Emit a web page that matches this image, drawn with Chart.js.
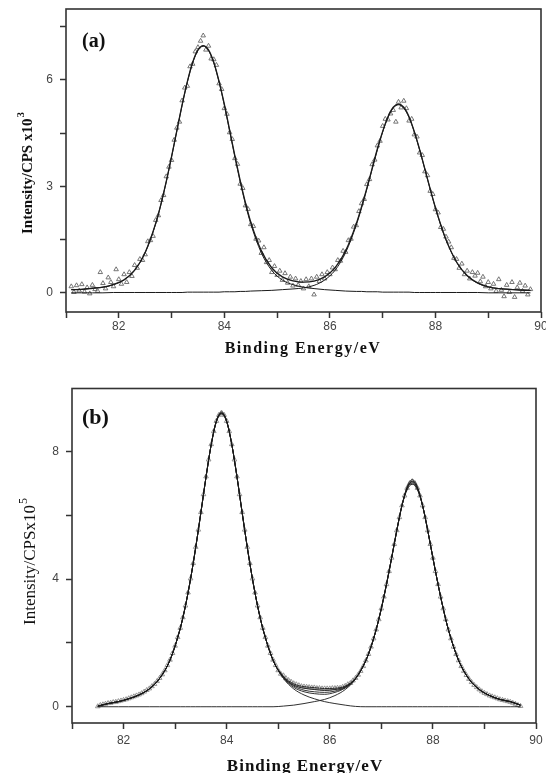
<!DOCTYPE html>
<html>
<head>
<meta charset="utf-8">
<script src="https://cdn.jsdelivr.net/npm/chart.js"></script>
<style>
  html, body { margin: 0; padding: 0; background: #fff; width: 546px; height: 773px; overflow: hidden; }
  canvas { position: absolute; left: 0; }
  #chartA { top: 0; }
  #chartB { top: 380px; }
</style>
</head>
<body>
<canvas id="chartA" width="560" height="360"></canvas>
<canvas id="chartB" width="560" height="400"></canvas>
<script>
// ---- tick labels ----
const xTickLabels = [82, 84, 86, 88, 90];
const yTickLabelsA = [0, 3, 6];
const yTickLabelsB = [0, 4, 8];

// ---- panel (a): measured points ----
const energyA = [
  81.10, 81.15, 81.20, 81.25, 81.30, 81.35, 81.40, 81.45, 81.50, 81.55,
  81.60, 81.65, 81.70, 81.75, 81.80, 81.85, 81.90, 81.95, 82.00, 82.05,
  82.10, 82.15, 82.20, 82.25, 82.30, 82.35, 82.40, 82.45, 82.50, 82.55,
  82.60, 82.65, 82.70, 82.75, 82.80, 82.85, 82.90, 82.95, 83.00, 83.05,
  83.10, 83.15, 83.20, 83.25, 83.30, 83.35, 83.40, 83.45, 83.50, 83.55,
  83.60, 83.65, 83.70, 83.75, 83.80, 83.85, 83.90, 83.95, 84.00, 84.05,
  84.10, 84.15, 84.20, 84.25, 84.30, 84.35, 84.40, 84.45, 84.50, 84.55,
  84.60, 84.65, 84.70, 84.75, 84.80, 84.85, 84.90, 84.95, 85.00, 85.05,
  85.10, 85.15, 85.20, 85.25, 85.30, 85.35, 85.40, 85.45, 85.50, 85.55,
  85.60, 85.65, 85.70, 85.75, 85.80, 85.85, 85.90, 85.95, 86.00, 86.05,
  86.10, 86.15, 86.20, 86.25, 86.30, 86.35, 86.40, 86.45, 86.50, 86.55,
  86.60, 86.65, 86.70, 86.75, 86.80, 86.85, 86.90, 86.95, 87.00, 87.05,
  87.10, 87.15, 87.20, 87.25, 87.30, 87.35, 87.40, 87.45, 87.50, 87.55,
  87.60, 87.65, 87.70, 87.75, 87.80, 87.85, 87.90, 87.95, 88.00, 88.05,
  88.10, 88.15, 88.20, 88.25, 88.30, 88.35, 88.40, 88.45, 88.50, 88.55,
  88.60, 88.65, 88.70, 88.75, 88.80, 88.85, 88.90, 88.95, 89.00, 89.05,
  89.10, 89.15, 89.20, 89.25, 89.30, 89.35, 89.40, 89.45, 89.50, 89.55,
  89.60, 89.65, 89.70, 89.75, 89.80
];
const countsA = [
  0.18, 0.02, 0.21, 0.06, 0.24, 0.03, 0.15, -0.02, 0.22, 0.10,
  0.05, 0.58, 0.27, 0.12, 0.43, 0.30, 0.18, 0.66, 0.38, 0.25,
  0.52, 0.30, 0.58, 0.47, 0.78, 0.70, 0.95, 0.92, 1.08, 1.45,
  1.48, 1.60, 2.05, 2.18, 2.61, 2.75, 3.28, 3.55, 3.74, 4.31,
  4.65, 4.82, 5.42, 5.78, 5.83, 6.38, 6.45, 6.80, 6.92, 7.10,
  7.25, 6.85, 6.96, 6.60, 6.58, 6.42, 5.90, 5.74, 5.20, 5.04,
  4.52, 4.33, 3.79, 3.63, 3.07, 2.95, 2.46, 2.36, 1.93, 1.88,
  1.52, 1.47, 1.12, 1.28, 0.86, 0.92, 0.58, 0.75, 0.50, 0.62,
  0.36, 0.55, 0.28, 0.45, 0.20, 0.40, 0.22, 0.33, 0.12, 0.38,
  0.18, 0.40, -0.05, 0.45, 0.33, 0.52, 0.40, 0.58, 0.52, 0.71,
  0.66, 0.92, 0.90, 1.18, 1.15, 1.48, 1.52, 1.86, 1.90, 2.30,
  2.52, 2.64, 3.06, 3.20, 3.62, 3.75, 4.15, 4.28, 4.70, 4.90,
  4.88, 5.05, 5.15, 4.82, 5.38, 5.22, 5.41, 5.20, 4.85, 4.90,
  4.46, 4.40, 3.95, 3.88, 3.42, 3.31, 2.87, 2.78, 2.35, 2.26,
  1.85, 1.80, 1.58, 1.44, 1.28, 0.98, 0.95, 0.70, 0.82, 0.52,
  0.62, 0.40, 0.58, 0.48, 0.56, 0.32, 0.45, 0.18, 0.30, 0.12,
  0.25, 0.05, 0.38, 0.08, -0.10, 0.22, 0.02, 0.30, -0.12, 0.15,
  0.28, 0.05, 0.20, -0.05, 0.10
];

// ---- panel (a): fitted curves ----
const fitEnergyA = [
  81.1, 81.3, 81.5, 81.7, 81.9, 82.1, 82.3, 82.5, 82.7, 82.8,
  82.9, 83.0, 83.1, 83.2, 83.3, 83.4, 83.5, 83.6, 83.7, 83.8,
  83.9, 84.0, 84.1, 84.2, 84.3, 84.4, 84.5, 84.7, 84.9, 85.1,
  85.3, 85.5, 85.7, 85.9, 86.1, 86.3, 86.5, 86.6, 86.7, 86.8,
  86.9, 87.0, 87.1, 87.2, 87.3, 87.4, 87.5, 87.6, 87.7, 87.8,
  87.9, 88.0, 88.1, 88.2, 88.4, 88.6, 88.8, 89.0, 89.2, 89.4,
  89.6, 89.8
];
const peak1A = [
  0.09, 0.10, 0.13, 0.16, 0.23, 0.36, 0.63, 1.13, 1.95, 2.50,
  3.13, 3.83, 4.56, 5.29, 5.94, 6.48, 6.83, 6.95, 6.83, 6.48,
  5.94, 5.29, 4.56, 3.83, 3.13, 2.50, 1.95, 1.13, 0.63, 0.36,
  0.23, 0.16, 0.12, 0.09, 0.07, 0.05, 0.04, 0.04, 0.03, 0.03,
  0.03, 0.02, 0.02, 0.02, 0.02, 0.02, 0.02, 0.01, 0.01, 0.01,
  0.01, 0.01, 0.01, 0.01, 0.01, 0.01, 0.01, 0, 0, 0,
  0, 0
];
const peak2A = [
  0, 0, 0, 0, 0.01, 0.01, 0.01, 0.01, 0.01, 0.01,
  0.01, 0.01, 0.01, 0.01, 0.02, 0.02, 0.02, 0.02, 0.02, 0.02,
  0.02, 0.03, 0.03, 0.03, 0.04, 0.04, 0.05, 0.06, 0.07, 0.09,
  0.11, 0.14, 0.21, 0.36, 0.64, 1.14, 1.91, 2.39, 2.92, 3.48,
  4.03, 4.53, 4.94, 5.21, 5.30, 5.21, 4.94, 4.53, 4.03, 3.48,
  2.92, 2.39, 1.91, 1.49, 0.86, 0.48, 0.27, 0.17, 0.12, 0.10,
  0.08, 0.07
];
const envelopeA = [
  0.09, 0.10, 0.13, 0.16, 0.24, 0.37, 0.64, 1.14, 1.96, 2.51,
  3.14, 3.84, 4.57, 5.30, 5.96, 6.50, 6.85, 6.97, 6.85, 6.50,
  5.96, 5.32, 4.59, 3.86, 3.17, 2.54, 2.00, 1.19, 0.70, 0.45,
  0.34, 0.30, 0.33, 0.45, 0.71, 1.19, 1.95, 2.43, 2.95, 3.51,
  4.06, 4.55, 4.96, 5.23, 5.32, 5.23, 4.96, 4.54, 4.04, 3.49,
  2.93, 2.40, 1.92, 1.50, 0.87, 0.49, 0.28, 0.17, 0.12, 0.10,
  0.08, 0.07
];

// ---- panel (b): measured points ----
const energyB = [
  81.50, 81.55, 81.60, 81.65, 81.70, 81.75, 81.80, 81.85, 81.90, 81.95,
  82.00, 82.05, 82.10, 82.15, 82.20, 82.25, 82.30, 82.35, 82.40, 82.45,
  82.50, 82.55, 82.60, 82.65, 82.70, 82.75, 82.80, 82.85, 82.90, 82.95,
  83.00, 83.05, 83.10, 83.15, 83.20, 83.25, 83.30, 83.35, 83.40, 83.45,
  83.50, 83.55, 83.60, 83.65, 83.70, 83.75, 83.80, 83.85, 83.90, 83.95,
  84.00, 84.05, 84.10, 84.15, 84.20, 84.25, 84.30, 84.35, 84.40, 84.45,
  84.50, 84.55, 84.60, 84.65, 84.70, 84.75, 84.80, 84.85, 84.90, 84.95,
  85.00, 85.05, 85.10, 85.15, 85.20, 85.25, 85.30, 85.35, 85.40, 85.45,
  85.50, 85.55, 85.60, 85.65, 85.70, 85.75, 85.80, 85.85, 85.90, 85.95,
  86.00, 86.05, 86.10, 86.15, 86.20, 86.25, 86.30, 86.35, 86.40, 86.45,
  86.50, 86.55, 86.60, 86.65, 86.70, 86.75, 86.80, 86.85, 86.90, 86.95,
  87.00, 87.05, 87.10, 87.15, 87.20, 87.25, 87.30, 87.35, 87.40, 87.45,
  87.50, 87.55, 87.60, 87.65, 87.70, 87.75, 87.80, 87.85, 87.90, 87.95,
  88.00, 88.05, 88.10, 88.15, 88.20, 88.25, 88.30, 88.35, 88.40, 88.45,
  88.50, 88.55, 88.60, 88.65, 88.70, 88.75, 88.80, 88.85, 88.90, 88.95,
  89.00, 89.05, 89.10, 89.15, 89.20, 89.25, 89.30, 89.35, 89.40, 89.45,
  89.50, 89.55, 89.60, 89.65, 89.70
];
const countsB = [
  0.01, 0.05, 0.07, 0.09, 0.11, 0.12, 0.14, 0.15, 0.17, 0.19,
  0.21, 0.23, 0.26, 0.29, 0.32, 0.35, 0.38, 0.42, 0.47, 0.52,
  0.57, 0.64, 0.71, 0.80, 0.90, 1.01, 1.14, 1.30, 1.47, 1.68,
  1.91, 2.18, 2.47, 2.80, 3.17, 3.58, 4.02, 4.50, 5.01, 5.55,
  6.10, 6.66, 7.22, 7.75, 8.23, 8.64, 8.96, 9.15, 9.22, 9.15,
  8.96, 8.64, 8.23, 7.75, 7.22, 6.66, 6.10, 5.55, 5.01, 4.50,
  4.02, 3.58, 3.17, 2.80, 2.47, 2.18, 1.91, 1.68, 1.47, 1.30,
  1.14, 1.03, 0.98, 0.89, 0.83, 0.78, 0.73, 0.70, 0.67, 0.64,
  0.63, 0.62, 0.61, 0.60, 0.60, 0.58, 0.58, 0.57, 0.57, 0.57,
  0.57, 0.58, 0.58, 0.59, 0.59, 0.62, 0.65, 0.70, 0.74, 0.82,
  0.90, 1.00, 1.12, 1.27, 1.45, 1.65, 1.88, 2.14, 2.42, 2.74,
  3.08, 3.45, 3.84, 4.25, 4.67, 5.10, 5.53, 5.94, 6.31, 6.62,
  6.86, 7.01, 7.07, 7.01, 6.86, 6.62, 6.31, 5.94, 5.53, 5.10,
  4.67, 4.25, 3.84, 3.45, 3.08, 2.74, 2.42, 2.14, 1.88, 1.65,
  1.45, 1.27, 1.12, 0.99, 0.87, 0.77, 0.68, 0.61, 0.54, 0.48,
  0.43, 0.39, 0.35, 0.32, 0.29, 0.26, 0.23, 0.21, 0.19, 0.17,
  0.15, 0.12, 0.09, 0.05, 0.02
];

// ---- panel (b): fitted curves (components and several envelopes) ----
const fitEnergyB = [
  81.5, 81.7, 81.9, 82.1, 82.3, 82.5, 82.7, 82.9, 83.1, 83.2,
  83.3, 83.4, 83.5, 83.6, 83.7, 83.8, 83.9, 84.0, 84.1, 84.2,
  84.3, 84.4, 84.5, 84.6, 84.7, 84.9, 85.1, 85.3, 85.5, 85.7,
  85.9, 86.1, 86.3, 86.5, 86.7, 86.8, 86.9, 87.0, 87.1, 87.2,
  87.3, 87.4, 87.5, 87.6, 87.7, 87.8, 87.9, 88.0, 88.1, 88.2,
  88.3, 88.5, 88.7, 88.9, 89.1, 89.3, 89.5, 89.7
];
const peak1B = [
  0.02, 0.10, 0.16, 0.25, 0.37, 0.56, 0.89, 1.46, 2.46, 3.16,
  4.01, 5.00, 6.09, 7.21, 8.22, 8.95, 9.21, 8.95, 8.22, 7.21,
  6.09, 5.00, 4.01, 3.16, 2.46, 1.46, 0.89, 0.56, 0.37, 0.25,
  0.16, 0.10, 0.05, 0.01, 0, 0, 0, 0, 0, 0,
  0, 0, 0, 0, 0, 0, 0, 0, 0, 0,
  0, 0, 0, 0, 0, 0, 0, 0
];
const peak2B = [
  0, 0, 0, 0, 0, 0, 0, 0, 0, 0,
  0, 0, 0, 0, 0, 0, 0, 0, 0, 0,
  0, 0, 0, 0, 0, 0, 0.02, 0.05, 0.10, 0.16,
  0.23, 0.35, 0.54, 0.87, 1.45, 1.88, 2.42, 3.08, 3.84, 4.67,
  5.53, 6.31, 6.86, 7.07, 6.86, 6.31, 5.53, 4.67, 3.84, 3.08,
  2.42, 1.45, 0.87, 0.54, 0.35, 0.23, 0.16, 0.05
];
const envelopeB1 = [
  0.02, 0.10, 0.16, 0.25, 0.37, 0.56, 0.89, 1.46, 2.46, 3.16,
  4.01, 5.00, 6.09, 7.21, 8.22, 8.95, 9.21, 8.95, 8.22, 7.21,
  6.09, 5.00, 4.01, 3.16, 2.46, 1.46, 0.91, 0.61, 0.47, 0.41,
  0.39, 0.45, 0.59, 0.88, 1.45, 1.88, 2.42, 3.08, 3.84, 4.67,
  5.53, 6.31, 6.86, 7.07, 6.86, 6.31, 5.53, 4.67, 3.84, 3.08,
  2.42, 1.45, 0.87, 0.54, 0.35, 0.23, 0.16, 0.05
];
const envelopeB2 = [
  0.02, 0.10, 0.16, 0.25, 0.37, 0.56, 0.89, 1.46, 2.46, 3.16,
  4.01, 5.00, 6.09, 7.21, 8.22, 8.93, 9.18, 8.93, 8.22, 7.21,
  6.09, 5.00, 4.01, 3.16, 2.46, 1.46, 0.93, 0.65, 0.52, 0.47,
  0.45, 0.49, 0.61, 0.88, 1.45, 1.88, 2.42, 3.08, 3.84, 4.67,
  5.53, 6.31, 6.84, 7.02, 6.84, 6.31, 5.53, 4.67, 3.84, 3.08,
  2.42, 1.45, 0.87, 0.54, 0.35, 0.23, 0.16, 0.05
];
const envelopeB3 = [
  0.02, 0.10, 0.16, 0.25, 0.37, 0.56, 0.89, 1.46, 2.46, 3.16,
  4.01, 5.00, 6.09, 7.21, 8.22, 8.95, 9.21, 8.95, 8.22, 7.21,
  6.09, 5.00, 4.01, 3.16, 2.46, 1.46, 0.94, 0.68, 0.58, 0.54,
  0.51, 0.54, 0.63, 0.89, 1.45, 1.88, 2.42, 3.08, 3.84, 4.67,
  5.53, 6.31, 6.80, 6.98, 6.80, 6.31, 5.53, 4.67, 3.84, 3.08,
  2.42, 1.45, 0.87, 0.54, 0.35, 0.23, 0.16, 0.05
];
const envelopeB4 = [
  0.02, 0.10, 0.16, 0.25, 0.37, 0.56, 0.89, 1.46, 2.46, 3.16,
  4.01, 5.00, 6.09, 7.21, 8.22, 8.97, 9.25, 8.97, 8.22, 7.21,
  6.09, 5.00, 4.01, 3.16, 2.46, 1.46, 0.96, 0.72, 0.63, 0.60,
  0.57, 0.58, 0.65, 0.90, 1.45, 1.88, 2.42, 3.08, 3.84, 4.67,
  5.53, 6.31, 6.90, 7.12, 6.90, 6.31, 5.53, 4.67, 3.84, 3.08,
  2.42, 1.45, 0.87, 0.54, 0.35, 0.23, 0.16, 0.05
];

const toXY = (xs, ys) => xs.map((x, i) => ({ x: x, y: ys[i] }));

const lineSet = (xs, ys, w) => ({
  data: toXY(xs, ys),
  showLine: true,
  pointRadius: 0,
  borderColor: '#1a1a1a',
  borderWidth: w,
  cubicInterpolationMode: 'monotone',
  order: 1
});

const pointSet = (xs, ys, r, color) => ({
  data: toXY(xs, ys),
  showLine: false,
  pointStyle: 'triangle',
  pointRadius: r,
  borderColor: color,
  borderWidth: 0.9,
  backgroundColor: 'rgba(255,255,255,0)',
  order: 2
});

// frame, panel letter and axis titles
const decorations = {
  id: 'decorations',
  afterDraw(chart, args, o) {
    const ctx = chart.ctx;
    const a = chart.chartArea;
    ctx.save();
    ctx.strokeStyle = '#333';
    ctx.lineWidth = 1.6;
    ctx.strokeRect(a.left, a.top, a.right - a.left, a.bottom - a.top);

    ctx.fillStyle = '#111';
    ctx.font = o.panelFont;
    ctx.textAlign = 'left';
    ctx.textBaseline = 'alphabetic';
    ctx.fillText(o.panel, o.panelX, o.panelY);

    ctx.font = o.xTitleFont;
    ctx.letterSpacing = o.xSpacing;
    ctx.textAlign = 'center';
    ctx.textBaseline = 'middle';
    ctx.fillText(o.xTitle, o.xTitleX, o.xTitleY);
    ctx.letterSpacing = '0px';

    ctx.translate(o.yTitleX, o.yTitleY);
    ctx.rotate(-Math.PI / 2);
    ctx.textAlign = 'left';
    ctx.font = o.yTitleFont;
    const w1 = ctx.measureText(o.yTitle).width;
    ctx.font = o.supFont;
    const w2 = ctx.measureText(o.yTitleSup).width;
    const x0 = -(w1 + w2) / 2;
    ctx.font = o.yTitleFont;
    ctx.fillText(o.yTitle, x0, 0);
    ctx.font = o.supFont;
    ctx.fillText(o.yTitleSup, x0 + w1 + 1, -7);
    ctx.restore();
  }
};

function makeChart(id, datasets, yMin, yMax, yStep, yLabels, axisW, axisH, pad, xPad, deco) {
  return new Chart(document.getElementById(id), {
    type: 'scatter',
    data: { datasets: datasets },
    plugins: [decorations],
    options: {
      responsive: false,
      animation: false,
      layout: { padding: pad },
      plugins: {
        legend: { display: false },
        tooltip: { enabled: false },
        decorations: deco
      },
      scales: {
        x: {
          type: 'linear',
          min: 81,
          max: 90,
          afterFit: s => { s.height = axisH; s.paddingLeft = 0; s.paddingRight = 0; },
          border: { display: false },
          grid: { drawOnChartArea: false, drawTicks: true, tickLength: 6, tickColor: '#333', tickWidth: 1.5 },
          ticks: {
            stepSize: 1,
            autoSkip: false,
            maxRotation: 0,
            padding: xPad,
            color: '#444',
            font: { family: 'Liberation Sans', size: 12 },
            callback: v => xTickLabels.includes(v) ? String(v) : ''
          }
        },
        y: {
          type: 'linear',
          min: yMin,
          max: yMax,
          afterFit: s => { s.width = axisW; s.paddingTop = 0; s.paddingBottom = 0; },
          border: { display: false },
          grid: { drawOnChartArea: false, drawTicks: true, tickLength: 6, tickColor: '#333', tickWidth: 1.5 },
          ticks: {
            stepSize: yStep,
            includeBounds: false,
            padding: 7,
            color: '#444',
            font: { family: 'Liberation Sans', size: 12 },
            callback: v => yLabels.includes(v) ? String(v) : ''
          }
        }
      }
    }
  });
}

makeChart('chartA', [
  lineSet(fitEnergyA, envelopeA, 1.3),
  lineSet(fitEnergyA, peak1A, 1),
  lineSet(fitEnergyA, peak2A, 1),
  pointSet(energyA, countsA, 2.6, '#666')
], -0.54, 8.0, 1.5, yTickLabelsA, 66, 48, { left: 0, top: 9, right: 19, bottom: 0 }, 1, {
  panel: '(a)', panelFont: 'bold 20px "Liberation Serif"', panelX: 82, panelY: 46.5,
  xTitle: 'Binding Energy/eV', xTitleFont: 'bold 16px "Liberation Serif"', xSpacing: '1.5px', xTitleX: 303, xTitleY: 349,
  yTitle: 'Intensity/CPS x10', yTitleSup: '3', yTitleFont: 'bold 15px "Liberation Serif"', supFont: 'bold 11px "Liberation Serif"',
  yTitleX: 28.5, yTitleY: 173.5
});

makeChart('chartB', [
  lineSet(fitEnergyB, envelopeB1, 0.9),
  lineSet(fitEnergyB, envelopeB2, 0.9),
  lineSet(fitEnergyB, envelopeB3, 0.9),
  lineSet(fitEnergyB, envelopeB4, 0.9),
  lineSet(fitEnergyB, peak1B, 0.9),
  lineSet(fitEnergyB, peak2B, 0.9),
  pointSet(energyB, countsB, 2.7, '#8a8a8a')
], -0.51, 9.98, 2, yTickLabelsB, 72, 57, { left: 0, top: 8.5, right: 24, bottom: 0 }, 4, {
  panel: '(b)', panelFont: 'bold 22px "Liberation Serif"', panelX: 82, panelY: 44,
  xTitle: 'Binding Energy/eV', xTitleFont: 'bold 17px "Liberation Serif"', xSpacing: '1px', xTitleX: 305, xTitleY: 387,
  yTitle: 'Intensity/CPSx10', yTitleSup: '5', yTitleFont: '17px "Liberation Serif"', supFont: '12px "Liberation Serif"',
  yTitleX: 30.5, yTitleY: 182
});
</script>
</body>
</html>
